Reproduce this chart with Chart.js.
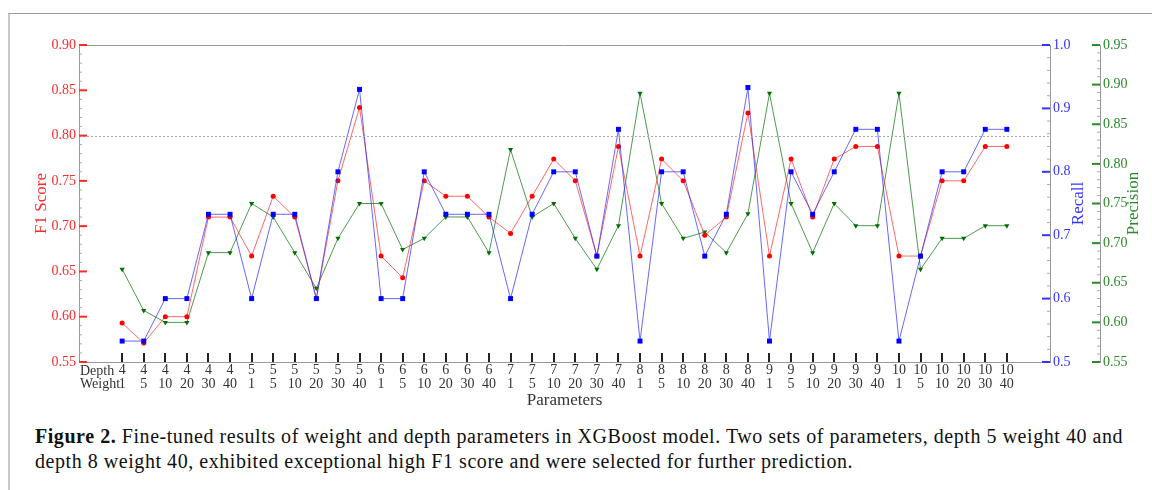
<!DOCTYPE html>
<html>
<head>
<meta charset="utf-8">
<script src="https://cdn.jsdelivr.net/npm/chart.js@4.4.0/dist/chart.umd.min.js"></script>
<style>
  body { margin: 0; background: #fff; width: 1152px; height: 490px; overflow: hidden; position: relative; }
  #frame { position: absolute; left: 8px; top: 13px; right: 0; bottom: 0; border-top: 1px solid #9a9a9a; border-left: 2px solid #c8c8c8; }
  #chart { position: absolute; left: 0; top: 0; }
  #caption { position: absolute; left: 35px; top: 424px; font-family: "Liberation Serif", serif; font-size: 20px; line-height: 25px; color: #111; letter-spacing: 0.55px; white-space: nowrap; }
</style>
</head>
<body>
<div id="frame"></div>
<canvas id="chart" width="1152" height="415"></canvas>
<div id="caption"><b>Figure 2.</b> Fine-tuned results of weight and depth parameters in XGBoost model. Two sets of parameters, depth 5 weight 40 and<br>depth 8 weight 40, exhibited exceptional high F1 score and were selected for further prediction.</div>
<script>
// parameter grid
const depths  = [4, 4, 4, 4, 4, 4, 5, 5, 5, 5, 5, 5, 6, 6, 6, 6, 6, 6, 7, 7, 7, 7, 7, 7,
                 8, 8, 8, 8, 8, 8, 9, 9, 9, 9, 9, 9, 10, 10, 10, 10, 10, 10]
const weights = [1, 5, 10, 20, 30, 40, 1, 5, 10, 20, 30, 40, 1, 5, 10, 20, 30, 40, 1, 5, 10, 20, 30, 40,
                 1, 5, 10, 20, 30, 40, 1, 5, 10, 20, 30, 40, 1, 5, 10, 20, 30, 40]

// metrics
const f1Scores = [0.593, 0.571, 0.600, 0.600, 0.710, 0.710, 0.667, 0.733, 0.710, 0.620, 0.750, 0.831,
                  0.667, 0.643, 0.750, 0.733, 0.733, 0.710, 0.692, 0.733, 0.774, 0.750, 0.667, 0.788,
                  0.667, 0.774, 0.750, 0.690, 0.710, 0.825, 0.667, 0.774, 0.710, 0.774, 0.788, 0.788,
                  0.667, 0.667, 0.750, 0.750, 0.788, 0.788]
const recalls = [0.533, 0.533, 0.600, 0.600, 0.733, 0.733, 0.600, 0.733, 0.733, 0.600, 0.800, 0.930,
                 0.600, 0.600, 0.800, 0.733, 0.733, 0.733, 0.600, 0.733, 0.800, 0.800, 0.667, 0.867,
                 0.533, 0.800, 0.800, 0.667, 0.733, 0.933, 0.533, 0.800, 0.733, 0.800, 0.867, 0.867,
                 0.533, 0.667, 0.800, 0.800, 0.867, 0.867]
const precisions = [0.667, 0.615, 0.600, 0.600, 0.688, 0.688, 0.750, 0.733, 0.688, 0.643, 0.706, 0.750,
                    0.750, 0.692, 0.706, 0.733, 0.733, 0.688, 0.818, 0.733, 0.750, 0.706, 0.667, 0.722,
                    0.889, 0.750, 0.706, 0.714, 0.688, 0.737, 0.889, 0.750, 0.688, 0.750, 0.722, 0.722,
                    0.889, 0.667, 0.706, 0.706, 0.722, 0.722]

const rowLabels = ['Depth', 'Weight']
const f1Ticks = [0.55, 0.60, 0.65, 0.70, 0.75, 0.80, 0.85, 0.90]
const recallTicks = [0.5, 0.6, 0.7, 0.8, 0.9, 1.0]
const precisionTicks = [0.55, 0.60, 0.65, 0.70, 0.75, 0.80, 0.85, 0.90, 0.95]
const threshold = 0.80

const SERIF = '"Liberation Serif", "DejaVu Serif", serif'
const RED = '#ff2a2a', BLUE = '#3333ff', GREEN = '#2a8a2a'

const points = arr => arr.map((v, i) => ({ x: i, y: v }))
const setTicks = list => scale => { scale.ticks = list.map(v => ({ value: v })) }

// inward ticks, minor ticks, threshold line, right-hand titles
const decor = {
  id: 'decor',
  afterDraw(chart) {
    const { ctx, chartArea: a, scales } = chart
    const { x, y, y1, y2 } = scales
    ctx.save()
    const line = (x0, y0, x1, y1_, color, w) => {
      ctx.beginPath(); ctx.strokeStyle = color; ctx.lineWidth = w
      ctx.moveTo(x0, y0); ctx.lineTo(x1, y1_); ctx.stroke()
    }
    // top spine
    line(a.left, a.top + 0.5, a.right, a.top + 0.5, '#999', 1)
    // threshold
    ctx.setLineDash([2, 2])
    const ty = Math.round(y.getPixelForValue(threshold)) + 0.5
    line(a.left, ty, a.right, ty, '#aaa', 1)
    ctx.setLineDash([])
    // F1 axis
    for (let k = 0; k <= 35; k++) {
      const py = y.getPixelForValue(0.55 + k * 0.01)
      if (k % 5) line(a.left, py, a.left + 3, py, '#aaa', 1)
    }
    f1Ticks.forEach(v => { const py = y.getPixelForValue(v); line(a.left, py, a.left + 8, py, RED, 2) })
    // Recall axis
    for (let k = 0; k <= 25; k++) {
      const py = y1.getPixelForValue(0.5 + k * 0.02)
      if (k % 5) line(a.right - 3, py, a.right, py, '#aaa', 1)
    }
    recallTicks.forEach(v => { const py = y1.getPixelForValue(v); line(a.right - 8, py, a.right, py, BLUE, 2) })
    // Precision axis (offset spine, ticks on its left)
    for (let k = 0; k <= 40; k++) {
      const py = y2.getPixelForValue(0.55 + k * 0.01)
      if (k % 5) line(y2.left - 3, py, y2.left, py, '#aaa', 1)
    }
    precisionTicks.forEach(v => { const py = y2.getPixelForValue(v); line(y2.left - 8, py, y2.left, py, GREEN, 2) })
    // category ticks
    depths.forEach((d, i) => {
      const px = Math.round(x.getPixelForValue(i))
      line(px, a.bottom - 9, px, a.bottom, '#222', 2)
    })
    // row labels
    ctx.font = '14px ' + SERIF
    ctx.fillStyle = '#333'
    ctx.textAlign = 'left'; ctx.textBaseline = 'middle'
    ctx.fillText(rowLabels[0], a.left + 1, a.bottom + 9)
    ctx.fillText(rowLabels[1], a.left + 1, a.bottom + 22)
    // right titles, rotated like the left one
    ctx.font = '17px ' + SERIF
    ctx.textAlign = 'center'
    ;[['Recall', y1.left + 29, BLUE], ['Precision', y2.left + 34, GREEN]].forEach(([t, px, c]) => {
      ctx.save(); ctx.translate(px, (a.top + a.bottom) / 2); ctx.rotate(-Math.PI / 2)
      ctx.fillStyle = c; ctx.fillText(t, 0, 0); ctx.restore()
    })
    ctx.restore()
  }
}

new Chart(document.getElementById('chart').getContext('2d'), {
  type: 'line',
  data: {
    datasets: [
      {
        label: 'Recall', data: points(recalls), yAxisID: 'y1',
        borderColor: 'rgba(40,40,255,0.7)', borderWidth: 1,
        pointStyle: 'rect', pointRadius: 3.5, pointBackgroundColor: '#0000ff', pointBorderColor: '#0000ff', pointBorderWidth: 0
      },
      {
        label: 'F1 Score', data: points(f1Scores), yAxisID: 'y',
        borderColor: 'rgba(255,40,40,0.7)', borderWidth: 1,
        pointStyle: 'circle', pointRadius: 2.5, pointBackgroundColor: '#ff0000', pointBorderColor: '#ff0000', pointBorderWidth: 0
      },
      {
        label: 'Precision', data: points(precisions), yAxisID: 'y2',
        borderColor: 'rgba(20,120,20,0.75)', borderWidth: 1,
        pointStyle: 'triangle', rotation: 180, pointRadius: 3, pointBackgroundColor: '#006e00', pointBorderColor: '#006e00', pointBorderWidth: 0
      }
    ]
  },
  options: {
    responsive: false,
    devicePixelRatio: 1,
    animation: false,
    layout: { padding: { top: 45, left: 0, right: 0, bottom: 0 } },
    plugins: { legend: { display: false }, tooltip: { enabled: false } },
    scales: {
      x: {
        type: 'linear', position: 'bottom', min: -2, max: 43,
        afterBuildTicks: scale => { scale.ticks = depths.map((d, i) => ({ value: i })) },
        afterFit: scale => { scale.height = 53 },
        ticks: {
          autoSkip: false, maxRotation: 0, padding: 2, color: '#333',
          font: { family: SERIF, size: 14, lineHeight: 0.95 },
          callback: v => [String(depths[v]), String(weights[v])]
        },
        grid: { display: false, drawTicks: false },
        border: { color: '#999', width: 1 },
        title: { display: true, text: 'Parameters', color: '#333', font: { family: SERIF, size: 17 }, padding: { top: 0, bottom: 4 } }
      },
      y: {
        position: 'left', min: 0.55, max: 0.90,
        afterBuildTicks: setTicks(f1Ticks),
        afterFit: scale => { scale.width = 79 },
        ticks: { color: RED, padding: 3, font: { family: SERIF, size: 14 }, callback: v => v.toFixed(2) },
        grid: { display: false, drawTicks: false },
        border: { color: '#999', width: 1 },
        title: { display: true, text: 'F1 Score', color: RED, font: { family: SERIF, size: 17 }, padding: { top: 31, bottom: 0 } }
      },
      y1: {
        position: 'right', weight: 0, min: 0.5, max: 1.0,
        afterBuildTicks: setTicks(recallTicks),
        afterFit: scale => { scale.width = 50 },
        ticks: { color: BLUE, padding: 3, font: { family: SERIF, size: 14 }, callback: v => v.toFixed(1) },
        grid: { display: false, drawTicks: false },
        border: { color: '#999', width: 1 }
      },
      y2: {
        position: 'right', weight: 1, min: 0.55, max: 0.95,
        afterBuildTicks: setTicks(precisionTicks),
        afterFit: scale => { scale.width = 52 },
        ticks: { color: GREEN, padding: 3, font: { family: SERIF, size: 14 }, callback: v => v.toFixed(2) },
        grid: { display: false, drawTicks: false },
        border: { color: '#999', width: 1 }
      }
    }
  },
  plugins: [decor]
})
</script>
</body>
</html>
